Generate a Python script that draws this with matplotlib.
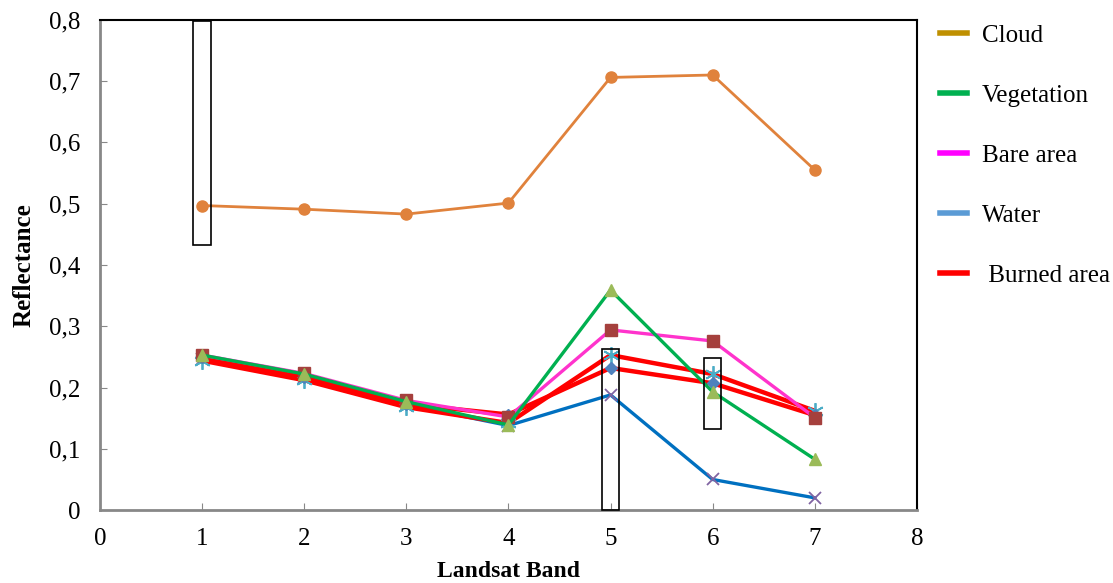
import matplotlib
matplotlib.use("Agg")
import matplotlib.pyplot as plt
from matplotlib.lines import Line2D
from matplotlib.patches import Rectangle
from matplotlib.ticker import FuncFormatter

bands = [1, 2, 3, 4, 5, 6, 7]
cloud = [0.497, 0.491, 0.483, 0.501, 0.706, 0.710, 0.555]
vegetation = [0.253, 0.222, 0.177, 0.139, 0.359, 0.193, 0.083]
bare_area = [0.253, 0.223, 0.179, 0.152, 0.294, 0.276, 0.151]
water = [0.247, 0.217, 0.172, 0.138, 0.188, 0.050, 0.020]
burned_a = [0.244, 0.212, 0.168, 0.142, 0.253, 0.222, 0.162]
burned_b = [0.250, 0.218, 0.173, 0.156, 0.232, 0.207, 0.155]

legend_labels = ["Cloud", "Vegetation", "Bare area", "Water", " Burned area"]
legend_colors = ["#BF9000", "#00B050", "#FF00FF", "#5B9BD5", "#FF0000"]

# highlighted bands (centre, lower, upper reflectance)
box_bands = [1, 5, 6]
box_low = [0.432, 0.0, 0.132]
box_high = [0.798, 0.263, 0.248]

plt.rcParams["font.family"] = ["Liberation Serif", "DejaVu Serif"]

fig = plt.figure(figsize=(11.13, 5.83), dpi=100)
ax = fig.add_axes([0.0898, 0.125, 0.734, 0.841])

ax.plot(bands, water, color="#0070C0", lw=2.4, marker="x", ms=8,
        mec="#8064A2", mew=1.3, zorder=3)
ax.plot(bands, burned_a, color="#FF0000", lw=3.2, marker=(6, 2, 0), ms=12,
        mec="#4BACC6", mew=1.3, zorder=4)
ax.plot(bands, burned_b, color="#FF0000", lw=3.2, marker="D", ms=6,
        mfc="#4F81BD", mec="#4F81BD", zorder=4)
ax.plot(bands, bare_area, color="#FF33CC", lw=2.4, marker="s", ms=8,
        mfc="#A5403D", mec="#A5403D", zorder=5)
ax.plot(bands, vegetation, color="#00B050", lw=2.4, marker="^", ms=8,
        mfc="#9BBB59", mec="#9BBB59", zorder=6)
ax.plot(bands, cloud, color="#E0823C", lw=2.0, marker="o", ms=8,
        mfc="#E0823C", mec="#E0823C", zorder=6)

for b, lo, hi in zip(box_bands, box_low, box_high):
    ax.add_patch(Rectangle((b - 0.085, lo), 0.17, hi - lo, fill=False,
                           ec="black", lw=1.2, zorder=7, clip_on=False))

ax.set_xlim(0, 8)
ax.set_ylim(0, 0.8)
ax.set_xticks(range(0, 9))
ax.set_yticks([i / 10 for i in range(0, 9)])
ax.yaxis.set_major_formatter(
    FuncFormatter(lambda v, _: "0" if v == 0 else f"{v:.1f}".replace(".", ",")))
ax.tick_params(direction="in", length=5, color="#888888", labelsize=18)
ax.tick_params(axis="y", pad=14)
ax.tick_params(axis="x", pad=13)

for side in ["left", "bottom"]:
    ax.spines[side].set_color("#888888")
    ax.spines[side].set_linewidth(2)
for side in ["top", "right"]:
    ax.spines[side].set_color("black")
    ax.spines[side].set_linewidth(1.5)

ax.set_xlabel("Landsat Band", fontsize=17, fontweight="bold", labelpad=8)
ax.set_ylabel("Reflectance", fontsize=18, fontweight="bold", labelpad=10)

handles = [Line2D([], [], color=c, lw=4) for c in legend_colors]
fig.legend(handles, legend_labels, loc="upper left",
           bbox_to_anchor=(0.845, 0.958), frameon=False, fontsize=18,
           borderpad=0, borderaxespad=0, handlelength=1.05,
           handletextpad=0.6, labelspacing=1.5)

fig.savefig("out.png", dpi=100)
